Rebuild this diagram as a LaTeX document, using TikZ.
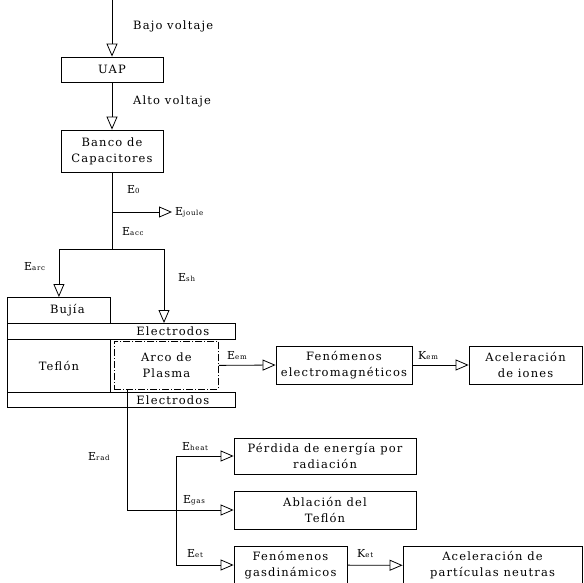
\documentclass[tikz,border=0pt]{standalone}
\usepackage{fontspec}
\setmainfont{DejaVu Serif}[LetterSpace=10]
\usetikzlibrary{arrows.meta, positioning}
\tikzset{
  block/.style={
    draw,
    line width=0.8pt,
    inner sep=0pt,
    align=center,
    font=\fontsize{11.5}{16}\selectfont
  },
  plasma/.style={
    block,
    dash pattern=on 7pt off 2pt on 1pt off 2pt
  },
  flow/.style={
    -{Triangle[open, length=13pt, width=11pt]},
    line width=0.8pt
  },
  wire/.style={
    line width=0.8pt
  },
  txt/.style={
    anchor=west,
    inner sep=0pt,
    font=\fontsize{11.5}{14}\selectfont
  },
  tag/.style={
    anchor=west,
    inner sep=0pt,
    font=\fontsize{11}{12}\selectfont
  }
}
\newcommand{\ix}[2]{#1{\fontsize{7}{8}\selectfont#2}}

\begin{document}
\begin{tikzpicture}[x=1pt, y=-1pt]
    \useasboundingbox (0,0) rectangle (584,583);

    % fuente y banco de capacitores
    \coordinate (in) at (112,0);
    \node[block, minimum width=102pt, minimum height=25pt] (uap) at (112,69.5) {UAP};
    \node[block, minimum width=102pt, minimum height=42pt] (banco) at (112,151) {Banco de\\Capacitores};
    \draw[flow] (in) -- (uap);
    \draw[flow] (uap) -- (banco);
    \node[txt] (bajo) at (133,26) {Bajo voltaje};
    \node[txt] (alto) at (133,101) {Alto voltaje};

    % reparto de energia
    \coordinate (joule) at (112,212);
    \coordinate (jouleEnd) at (172,212);
    \coordinate (split) at (112,249);
    \coordinate (shTip) at (164,323);
    \node[tag] (e0) at (127,190) {\ix{E}{0}};
    \node[tag] (ejoule) at (175,212) {\ix{E}{joule}};
    \node[tag] (eacc) at (122,232) {\ix{E}{acc}};
    \node[tag] (earc) at (24,267) {\ix{E}{arc}};
    \node[tag] (esh) at (178,278) {\ix{E}{sh}};

    % propulsor
    \node[block, anchor=north west, minimum width=103pt, minimum height=26pt] (bujia) at (7,297) {\hspace*{17pt}Bujía};
    \node[block, anchor=north west, minimum width=228pt, minimum height=16pt] (elecA) at (7,323) {\hspace*{103pt}Electrodos};
    \node[block, anchor=north west, minimum width=103pt, minimum height=53pt] (teflon) at (7,339) {Teflón};
    \node[plasma, anchor=north west, minimum width=104pt, minimum height=48pt] (arco) at (114,341) {Arco de\\Plasma};
    \node[block, anchor=north west, minimum width=228pt, minimum height=15pt] (elecB) at (7,392) {\hspace*{103pt}Electrodos};

    \draw[wire] (banco) -- (split);
    \draw[flow] (joule) -- (jouleEnd);
    \draw[flow] (split) -| (bujia.north);
    \draw[flow] (split) -| (shTip);

    % fenomenos electromagneticos
    \node[block, minimum width=136pt, minimum height=38pt] (fem) at (344,365) {Fenómenos\\electromagnéticos};
    \node[block, minimum width=113pt, minimum height=38pt] (iones) at (525.5,365) {Aceleración\\de iones};
    \draw[flow] (arco.east) -- (fem.west);
    \draw[flow] (fem) -- (iones);
    \node[tag] (eem) at (227,356) {\ix{E}{em}};
    \node[tag] (kem) at (418,356) {\ix{K}{em}};

    % perdidas y fenomenos gasdinamicos
    \node[block, minimum width=182pt, minimum height=36pt] (perdida) at (325,456) {Pérdida de energía por\\radiación};
    \node[block, minimum width=182pt, minimum height=38pt] (ablacion) at (325,510) {Ablación del\\Teflón};
    \node[block, minimum width=113pt, minimum height=38pt] (gas) at (290.5,565) {Fenómenos\\gasdinámicos};
    \node[block, minimum width=179pt, minimum height=38pt] (neutras) at (492.5,565.5) {Aceleración de\\partículas neutras};
    \coordinate (radTop) at (127,389);
    \coordinate (brTop) at (176,456);
    \coordinate (brBot) at (176,565);
    \draw[flow] (radTop) |- (ablacion.west);
    \draw[wire] (brTop) -- (brBot);
    \draw[flow] (brTop) -- (perdida.west);
    \draw[flow] (brBot) -- (gas.west);
    \draw[flow] (gas) -- (neutras);
    \node[tag] (erad) at (88,457) {\ix{E}{rad}};
    \node[tag] (eheat) at (182,447) {\ix{E}{heat}};
    \node[tag] (egas) at (183,500) {\ix{E}{gas}};
    \node[tag] (eet) at (187,554) {\ix{E}{et}};
    \node[tag] (ket) at (357,554) {\ix{K}{et}};
\end{tikzpicture}
\end{document}
